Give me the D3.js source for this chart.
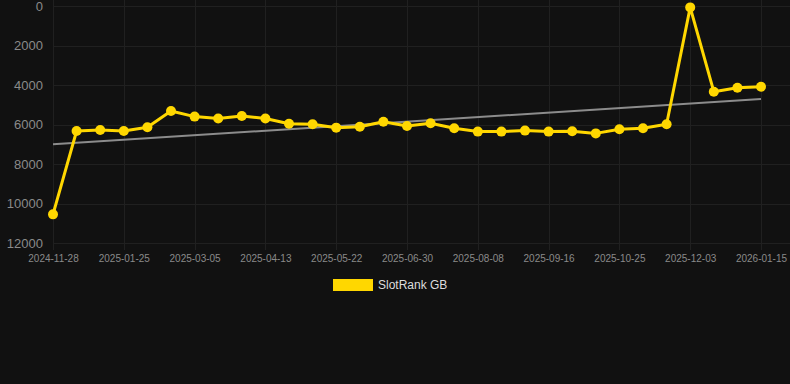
<!DOCTYPE html>
<html>
<head>
<meta charset="utf-8">
<script src="https://cdn.jsdelivr.net/npm/d3@7"></script>
<style>
  html, body { margin: 0; padding: 0; background: #111111; }
  svg { display: block; font-family: "Liberation Sans", Arial, sans-serif; }
</style>
</head>
<body>
<div id="chart"></div>
<script>
'use strict';

// values
var dates = [
  '2024-11-28', '2024-12-20', '2025-01-06', '2025-01-25', '2025-02-07', '2025-02-20',
  '2025-03-05', '2025-03-18', '2025-03-31', '2025-04-13', '2025-04-26', '2025-05-09',
  '2025-05-22', '2025-06-04', '2025-06-17', '2025-06-30', '2025-07-13', '2025-07-26',
  '2025-08-08', '2025-08-21', '2025-09-03', '2025-09-16', '2025-09-29', '2025-10-12',
  '2025-10-25', '2025-11-07', '2025-11-20', '2025-12-03', '2025-12-16', '2025-12-29',
  '2026-01-15'
];
var ranks = [
  10550, 6330, 6280, 6330, 6140, 5320,
  5600, 5700, 5570, 5700, 5960, 5990,
  6160, 6110, 5860, 6080, 5940, 6190,
  6360, 6360, 6310, 6360, 6345, 6450,
  6245, 6190, 5990, 70, 4340, 4135,
  4085
];
var trend = [7000, 4710];          // first and last value of the grey trend line
var yTicks = [0, 2000, 4000, 6000, 8000, 10000, 12000];
var seriesName = 'SlotRank GB';

var opts = {
    width  : 790
  , height : 384
  , left   : 53
  , right  : 761
  , top    : 6
  , bottom : 243
  , lineColor : '#FFD700'
  , gridColor : '#202020'
  , tickColor : '#8a8a8a'
};

var svg = d3.select('#chart')
  .append('svg')
  .attr('width', opts.width)
  .attr('height', opts.height);

svg.append('rect')
  .attr('width', opts.width)
  .attr('height', opts.height)
  .attr('fill', '#111111');

var x = d3.scalePoint()
  .domain(dates)
  .range([opts.left, opts.right]);

var y = d3.scaleLinear()
  .domain([0, 12000])
  .range([opts.top, opts.bottom]);

var shownDates = dates.filter(function (d, i) { return i % 3 === 0; });

// grid
var grid = svg.append('g');
grid.selectAll('.hg')
  .data(yTicks)
  .enter().append('line')
  .attr('x1', opts.left)
  .attr('x2', opts.width)
  .attr('y1', function (d) { return Math.round(y(d)) + 0.5; })
  .attr('y2', function (d) { return Math.round(y(d)) + 0.5; })
  .attr('stroke', opts.gridColor)
  .attr('stroke-width', 1);

grid.selectAll('.vg')
  .data(shownDates)
  .enter().append('line')
  .attr('x1', function (d) { return Math.round(x(d)) + 0.5; })
  .attr('x2', function (d) { return Math.round(x(d)) + 0.5; })
  .attr('y1', 0)
  .attr('y2', opts.bottom + 7)
  .attr('stroke', opts.gridColor)
  .attr('stroke-width', 1);

// y axis labels
var yAxis = d3.axisLeft(y)
  .tickValues(yTicks)
  .tickSize(0)
  .tickPadding(10)
  .tickFormat(d3.format('d'));

svg.append('g')
  .attr('transform', 'translate(' + (opts.left) + ',0)')
  .call(yAxis)
  .call(function (g) { g.select('.domain').remove(); })
  .selectAll('text')
  .attr('fill', opts.tickColor)
  .style('font-size', '13px');

// x axis labels
var xAxis = d3.axisBottom(x)
  .tickValues(shownDates)
  .tickSize(0)
  .tickPadding(12);

svg.append('g')
  .attr('transform', 'translate(0,' + opts.bottom + ')')
  .call(xAxis)
  .call(function (g) { g.select('.domain').remove(); })
  .selectAll('text')
  .attr('fill', opts.tickColor)
  .style('font-size', '10px');

// trend line
svg.append('line')
  .attr('x1', x(dates[0]))
  .attr('x2', x(dates[dates.length - 1]))
  .attr('y1', y(trend[0]))
  .attr('y2', y(trend[1]))
  .attr('stroke', '#8c8c8c')
  .attr('stroke-width', 2);

// series
var line = d3.line()
  .x(function (d, i) { return x(dates[i]); })
  .y(function (d) { return y(d); });

svg.append('path')
  .datum(ranks)
  .attr('d', line)
  .attr('fill', 'none')
  .attr('stroke', opts.lineColor)
  .attr('stroke-width', 3)
  .attr('stroke-linejoin', 'round');

svg.selectAll('.pt')
  .data(ranks)
  .enter().append('circle')
  .attr('cx', function (d, i) { return x(dates[i]); })
  .attr('cy', function (d) { return y(d); })
  .attr('r', 5)
  .attr('fill', opts.lineColor);

// legend
var legend = svg.append('g').attr('transform', 'translate(333,279)');
legend.append('rect')
  .attr('width', 40)
  .attr('height', 12)
  .attr('fill', opts.lineColor);
legend.append('text')
  .attr('x', 45)
  .attr('y', 10)
  .attr('fill', '#dddddd')
  .style('font-size', '12px')
  .text(seriesName);
</script>
</body>
</html>
